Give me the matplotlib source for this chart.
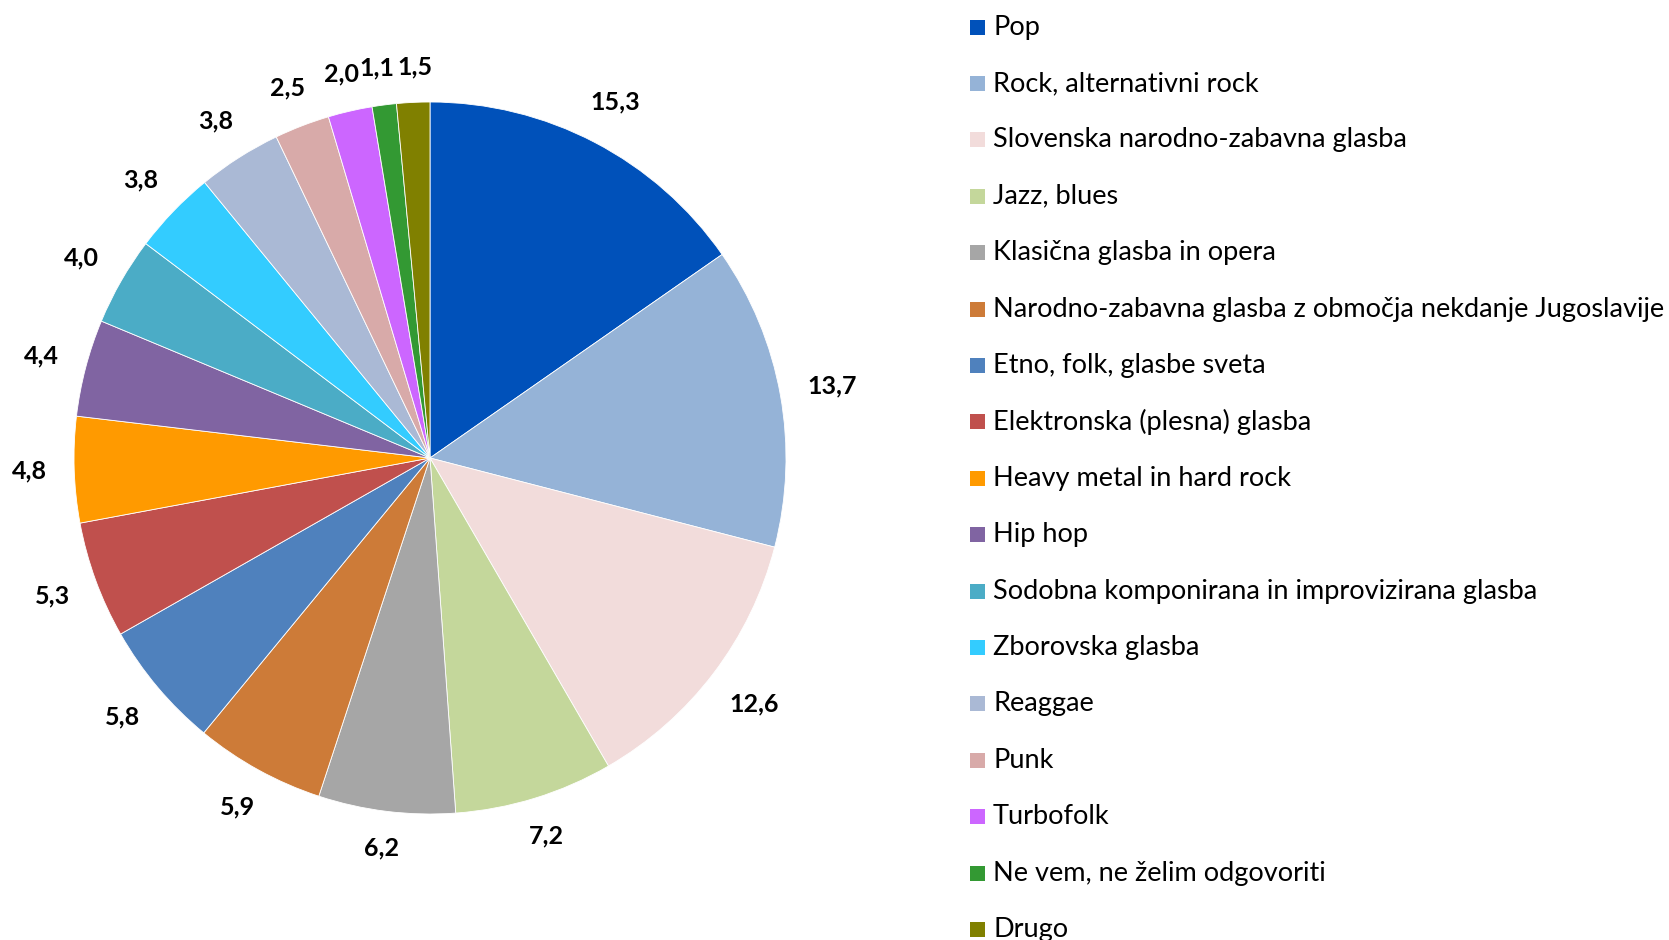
import numpy as np
import matplotlib
matplotlib.use("Agg")
import matplotlib.pyplot as plt
from matplotlib.patches import Rectangle

categories = [
    "Pop",
    "Rock, alternativni rock",
    "Slovenska narodno-zabavna glasba",
    "Jazz, blues",
    "Klasična glasba in opera",
    "Narodno-zabavna glasba z območja nekdanje Jugoslavije",
    "Etno, folk, glasbe sveta",
    "Elektronska (plesna) glasba",
    "Heavy metal in hard rock",
    "Hip hop",
    "Sodobna komponirana in improvizirana glasba",
    "Zborovska glasba",
    "Reaggae",
    "Punk",
    "Turbofolk",
    "Ne vem, ne želim odgovoriti",
    "Drugo",
]
values = [15.3, 13.7, 12.6, 7.2, 6.2, 5.9, 5.8, 5.3, 4.8, 4.4, 4.0, 3.8, 3.8, 2.5, 2.0, 1.1, 1.5]
colors = ["#0051BA", "#95B3D7", "#F2DCDB", "#C4D79B", "#A6A6A6", "#CD7B38",
          "#4F81BD", "#C0504D", "#FF9A00", "#8064A2", "#4BACC6", "#33CCFF",
          "#AAB9D5", "#D8AAA9", "#CC66FF", "#339933", "#808000"]

W, H = 1669, 940
fig = plt.figure(figsize=(W / 100, H / 100), dpi=100)
fig.patch.set_facecolor("white")

cx, cy, R = 430, 458, 356
ax = fig.add_axes([(cx - R) / W, (H - cy - R) / H, 2 * R / W, 2 * R / H])
wedges, _ = ax.pie(values, colors=colors, startangle=90, counterclock=False,
                   radius=1.0, wedgeprops=dict(edgecolor="white", linewidth=0.6))
ax.set_xlim(-1, 1)
ax.set_ylim(-1, 1)
ax.set_aspect("equal")
ax.axis("off")

font = "Lato"
renderer = fig.canvas.get_renderer()
inv = ax.transData.inverted()
texts = []
for w, v in zip(wedges, values):
    ang = np.deg2rad((w.theta1 + w.theta2) / 2)
    c, s = np.cos(ang), np.sin(ang)
    t = ax.text(c, s, f"{v:.1f}".replace(".", ","), ha="center", va="center",
                fontsize=18, fontweight="bold", family=font, color="black")
    bb = t.get_window_extent(renderer)
    p0 = inv.transform((bb.x0, bb.y0))
    p1 = inv.transform((bb.x1, bb.y1))
    hw, hh = (p1[0] - p0[0]) / 2, (p1[1] - p0[1]) / 2
    r = 1.075 + hw * abs(c) + 0.7 * hh * abs(s)
    t.set_position((r * c, r * s))
    texts.append(t)

# simple overlap removal between neighbouring labels (horizontal spreading)
for _ in range(20):
    moved = False
    for a, b in zip(texts[:-1], texts[1:]):
        ba = a.get_window_extent(renderer)
        bbx = b.get_window_extent(renderer)
        if ba.overlaps(bbx):
            left, right = (a, b) if ba.x0 < bbx.x0 else (b, a)
            bl = left.get_window_extent(renderer)
            br = right.get_window_extent(renderer)
            ov = bl.x1 - br.x0 + 3
            if ov <= 0:
                continue
            dx = (inv.transform((ov / 2, 0)) - inv.transform((0, 0)))[0]
            xl, yl = left.get_position()
            xr, yr = right.get_position()
            left.set_position((xl - dx, yl))
            right.set_position((xr + dx, yr))
            moved = True
    if not moved:
        break

# legend
x_sq, sq = 970, 15
x_txt = 993
y0, dy = 27, 56.4
for i, (lab, col) in enumerate(zip(categories, colors)):
    yc = y0 + i * dy
    fig.patches.append(Rectangle((x_sq / W, 1 - (yc + sq / 2) / H), sq / W, sq / H,
                                 transform=fig.transFigure, facecolor=col,
                                 edgecolor="none", figure=fig))
    fig.text(x_txt / W, 1 - yc / H, lab, ha="left", va="center",
             fontsize=19.5, family=font, color="black")

fig.savefig("out.png", dpi=100, facecolor="white")
